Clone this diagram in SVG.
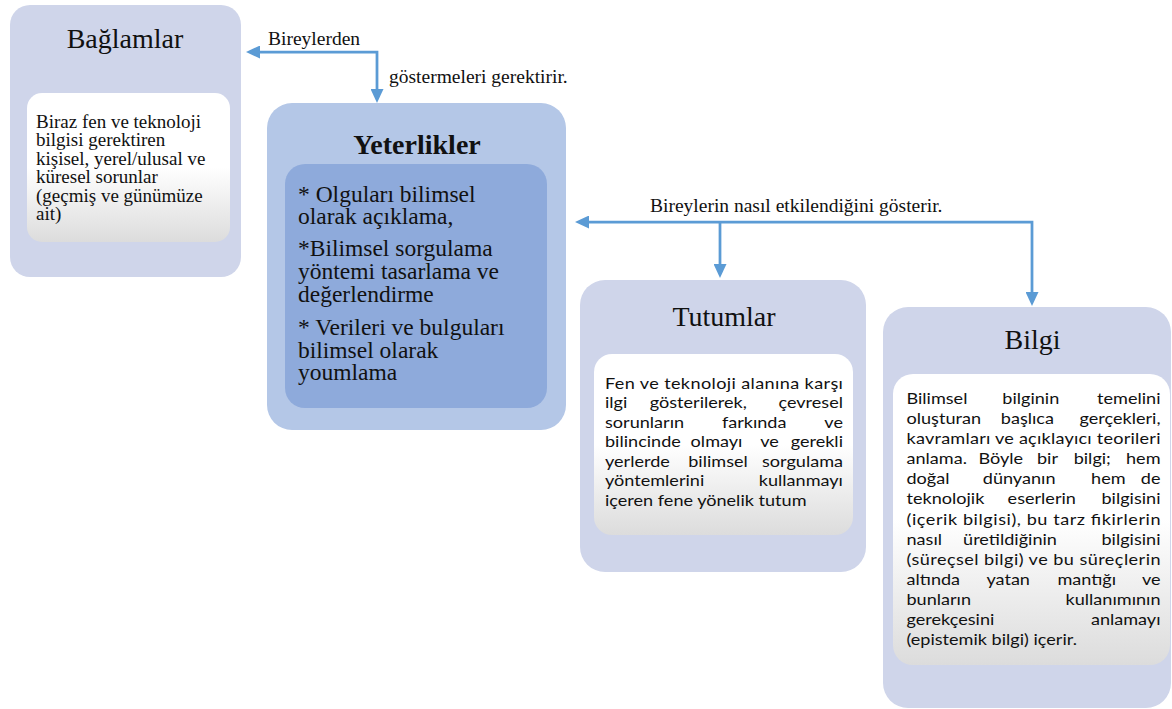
<svg xmlns="http://www.w3.org/2000/svg" width="1172" height="709" viewBox="0 0 1172 709">
  <style>
    .outer { fill: #cfd5ea; }
    .yout { fill: #b4c7e7; }
    .yin { fill: #8eaadb; }
    .inner { fill: url(#wg); }
    .ttl { font-family: "Liberation Serif", serif; font-size: 28px; fill: #111; text-anchor: middle; }
    .bold { font-weight: bold; }
    .ser { font-family: "Liberation Serif", serif; font-size: 19px; fill: #111; }
    .lbl { font-family: "Liberation Serif", serif; font-size: 19.5px; fill: #111; }
    .yt { font-family: "Liberation Serif", serif; font-size: 23.5px; fill: #111; }
    .sans { font-family: Lato, "Liberation Sans", sans-serif; font-size: 16px; fill: #111; }
    .mid { text-anchor: middle; }
    .end { text-anchor: end; }
    .conn { fill: none; stroke: #5b9bd5; stroke-width: 2.75; marker-start: url(#ah); marker-end: url(#ah); }
    .conn1 { fill: none; stroke: #5b9bd5; stroke-width: 2.75; marker-end: url(#ah); }
  </style>
  <defs>
    <linearGradient id="wg" x1="0" y1="0" x2="0" y2="1">
      <stop offset="0" stop-color="#ffffff"/>
      <stop offset="0.5" stop-color="#ffffff"/>
      <stop offset="1" stop-color="#dcdcdc"/>
    </linearGradient>
    <marker id="ah" markerUnits="userSpaceOnUse" markerWidth="14" markerHeight="13" refX="0" refY="6.5" orient="auto-start-reverse" viewBox="0 0 14 13">
      <path d="M0,0 L14,6.5 L0,13 z" fill="#5b9bd5"/>
    </marker>
  </defs>

  <g id="connectors">
    <path class="conn" d="M260 52 H377 V89"/>
    <path class="conn" d="M589 222 H1032 V292"/>
    <path class="conn1" d="M720 222 V264"/>
    <text class="lbl" x="268" y="45">Bireylerden</text>
    <text class="lbl" x="389" y="83">göstermeleri gerektirir.</text>
    <text class="lbl" x="650" y="212">Bireylerin nasıl etkilendiğini gösterir.</text>
  </g>

  <g id="baglamlar">
    <rect class="outer" x="10" y="5" width="231" height="272" rx="20"/>
    <rect class="inner" x="27" y="93" width="203" height="149" rx="15"/>
    <text class="ttl" x="125" y="48">Bağlamlar</text>
    <text class="ser" x="36" y="128">Biraz fen ve teknoloji</text>
    <text class="ser" x="36" y="146.4">bilgisi gerektiren</text>
    <text class="ser" x="36" y="164.8">kişisel, yerel/ulusal ve</text>
    <text class="ser" x="36" y="183.2">küresel sorunlar</text>
    <text class="ser" x="36" y="201.6">(geçmiş ve günümüze</text>
    <text class="ser" x="36" y="220">ait)</text>
  </g>

  <g id="yeterlikler">
    <rect class="yout" x="267" y="103" width="299" height="327" rx="25"/>
    <rect class="yin" x="285" y="164" width="262" height="244" rx="20"/>
    <text class="ttl bold" x="417" y="154">Yeterlikler</text>
    <text class="yt" x="298" y="201.7">* Olguları bilimsel</text>
    <text class="yt" x="298" y="223.5">olarak açıklama,</text>
    <text class="yt" x="298" y="256">*Bilimsel sorgulama</text>
    <text class="yt" x="298" y="278.5">yöntemi tasarlama ve</text>
    <text class="yt" x="298" y="301.5">değerlendirme</text>
    <text class="yt" x="298" y="335">* Verileri ve bulguları</text>
    <text class="yt" x="298" y="357.5">bilimsel olarak</text>
    <text class="yt" x="298" y="380">youmlama</text>
  </g>

  <g id="tutumlar">
    <rect class="outer" x="580" y="280" width="286" height="292" rx="25"/>
    <rect class="inner" x="594" y="354" width="259" height="181" rx="18"/>
    <text class="ttl" x="724" y="326">Tutumlar</text>
    <g transform="matrix(1.13 0 0 1 605 0)">
      <text class="sans" x="0" y="389" textLength="210.6" lengthAdjust="spacing">Fen ve teknoloji alanına karşı</text>
      <text class="sans" x="0" y="408.5">ilgi</text>
      <text class="sans mid" x="82.6" y="408.5">gösterilerek,</text>
      <text class="sans end" x="210.6" y="408.5">çevresel</text>
      <text class="sans" x="0" y="428">sorunların</text>
      <text class="sans mid" x="132" y="428">farkında</text>
      <text class="sans end" x="210.6" y="428">ve</text>
      <text class="sans" x="0" y="447.5">bilincinde</text>
      <text class="sans mid" x="98.7" y="447.5">olmayı</text>
      <text class="sans mid" x="145.6" y="447.5">ve</text>
      <text class="sans end" x="210.6" y="447.5">gerekli</text>
      <text class="sans" x="0" y="467">yerlerde</text>
      <text class="sans mid" x="100" y="467">bilimsel</text>
      <text class="sans end" x="210.6" y="467">sorgulama</text>
      <text class="sans" x="0" y="486.5">yöntemlerini</text>
      <text class="sans end" x="210.6" y="486.5">kullanmayı</text>
      <text class="sans" x="0" y="506">içeren fene yönelik tutum</text>
    </g>
  </g>

  <g id="bilgi">
    <rect class="outer" x="883" y="307" width="288" height="401" rx="25"/>
    <rect class="inner" x="893" y="374" width="277" height="291" rx="20"/>
    <text class="ttl" x="1032.5" y="349">Bilgi</text>
    <g transform="matrix(1.13 0 0 1 906.5 0)">
      <text class="sans" x="0" y="404">Bilimsel</text>
      <text class="sans mid" x="110" y="404">bilginin</text>
      <text class="sans end" x="224.8" y="404">temelini</text>
      <text class="sans" x="0" y="424.1">oluşturan</text>
      <text class="sans mid" x="107" y="424.1">başlıca</text>
      <text class="sans end" x="224.8" y="424.1">gerçekleri,</text>
      <text class="sans" x="0" y="444.2" textLength="224.8" lengthAdjust="spacing">kavramları ve açıklayıcı teorileri</text>
      <text class="sans" x="0" y="464.3">anlama.</text>
      <text class="sans mid" x="83.4" y="464.3">Böyle</text>
      <text class="sans mid" x="124.8" y="464.3">bir</text>
      <text class="sans mid" x="164.4" y="464.3">bilgi;</text>
      <text class="sans end" x="224.8" y="464.3">hem</text>
      <text class="sans" x="0" y="484.4">doğal</text>
      <text class="sans mid" x="99.7" y="484.4">dünyanın</text>
      <text class="sans mid" x="178.6" y="484.4">hem</text>
      <text class="sans end" x="224.8" y="484.4">de</text>
      <text class="sans" x="0" y="504.5">teknolojik</text>
      <text class="sans mid" x="119.7" y="504.5">eserlerin</text>
      <text class="sans end" x="224.8" y="504.5">bilgisini</text>
      <text class="sans" x="0" y="524.6" textLength="224.8" lengthAdjust="spacing">(içerik bilgisi), bu tarz fikirlerin</text>
      <text class="sans" x="0" y="544.7">nasıl</text>
      <text class="sans mid" x="91.6" y="544.7">üretildiğinin</text>
      <text class="sans end" x="224.8" y="544.7">bilgisini</text>
      <text class="sans" x="0" y="564.8" textLength="224.8" lengthAdjust="spacing">(süreçsel bilgi) ve bu süreçlerin</text>
      <text class="sans" x="0" y="584.9">altında</text>
      <text class="sans mid" x="90" y="584.9">yatan</text>
      <text class="sans mid" x="159.5" y="584.9">mantığı</text>
      <text class="sans end" x="224.8" y="584.9">ve</text>
      <text class="sans" x="0" y="605">bunların</text>
      <text class="sans end" x="224.8" y="605">kullanımının</text>
      <text class="sans" x="0" y="625.1">gerekçesini</text>
      <text class="sans end" x="224.8" y="625.1">anlamayı</text>
      <text class="sans" x="0" y="645.2">(epistemik bilgi) içerir.</text>
    </g>
  </g>
</svg>
